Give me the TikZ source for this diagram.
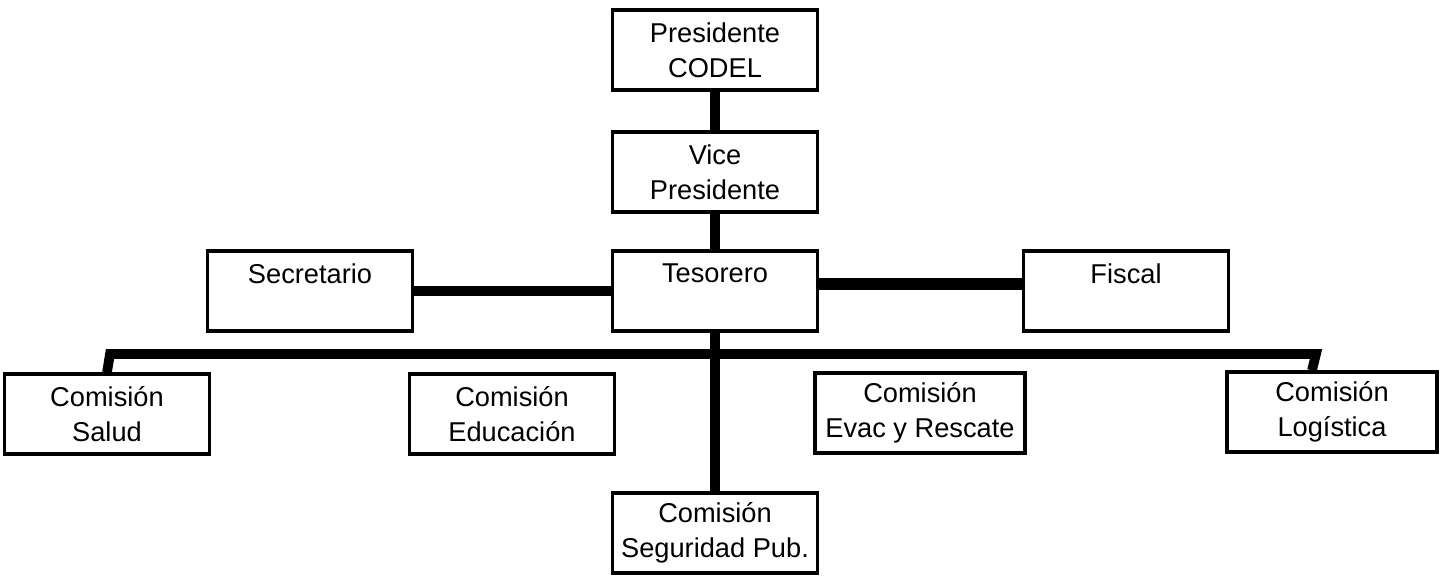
\documentclass[tikz,border=0pt]{standalone}
\usepackage{fontspec}
\setmainfont{Liberation Sans}
\usepackage{tikz}
\begin{document}
\begin{tikzpicture}[x=0.02cm, y=-0.02cm,
  box/.style={draw, line width=1.9pt, minimum width=4.1cm, minimum height=1.6cm,
    align=center, inner sep=2pt, font=\fontsize{15.5}{20}\selectfont},
  link/.style={line width=5.5pt}]
  \useasboundingbox (0,0) rectangle (1446,576);
  \node[box] (pres) at (715,50) {Presidente\\CODEL};
  \node[box] (vice) at (715,172) {Vice\\Presidente};
  \node[box] (tes) at (715,291) {Tesorero\\~};
  \node[box] (sec) at (310,291) {Secretario\\~};
  \node[box] (fis) at (1126,291) {Fiscal\\~};
  \node[box] (salud) at (107,414) {Comisión\\Salud};
  \node[box] (edu) at (512,414) {Comisión\\Educación};
  \node[box, minimum width=4.2cm] (evac) at (920,413) {Comisión\\Evac y Rescate};
  \node[box, minimum width=4.2cm] (logi) at (1332,412) {Comisión\\Logística};
  \node[box] (seg) at (715,533) {Comisión\\Seguridad Pub.};
  \coordinate (busL) at (110,354);
  \coordinate (busR) at (1316,354);
  \draw[link] (pres) -- (vice);
  \draw[link] (vice) -- (tes);
  \draw[link] (sec) -- (tes);
  \draw[link, line width=7pt] ([yshift=0.14cm]tes.east) -- ([yshift=0.14cm]fis.west);
  \draw[link] (salud.north) -- (busL) -- (busR) -- ([xshift=-0.4cm]logi.north);
  \draw[link] (tes.south) -- (seg.north);
\end{tikzpicture}
\end{document}
